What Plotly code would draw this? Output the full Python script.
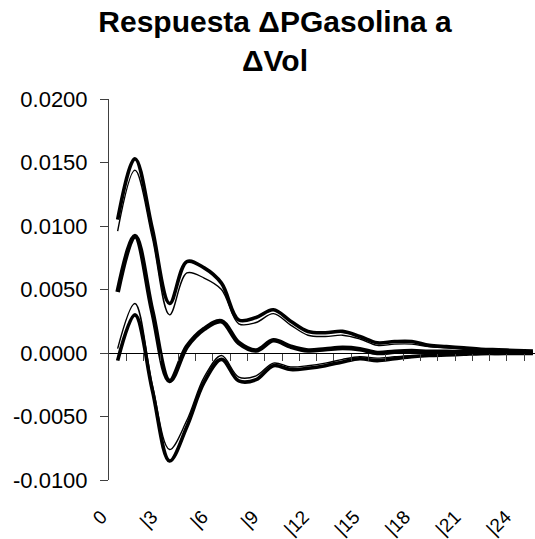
import plotly.graph_objects as go

# Horizon (periods after the shock)
periods = list(range(25))

# Response of ΔPGasolina to a ΔVol shock: point estimate and two pairs of bands
response = [0.0048, 0.0092, 0.0033, -0.0022, 0.0005, 0.0019, 0.0025, 0.0008, 0.0002,
            0.0010, 0.0005, 0.0002, 0.0003, 0.0004, 0.0003, 0.0000, 0.0001, 0.00015,
            0.0001, 0.0001, 0.00005, 0.00005, 0.0, 0.0, 0.0]
upper_outer = [0.0105, 0.0153, 0.0098, 0.0039, 0.0072, 0.0067, 0.0055, 0.0026, 0.0028,
               0.0034, 0.0025, 0.0017, 0.0016, 0.0017, 0.0013, 0.0008, 0.0009, 0.0009,
               0.0006, 0.0005, 0.0004, 0.0003, 0.00025, 0.0002, 0.00015]
upper_inner = [0.0096, 0.0144, 0.0091, 0.0030, 0.0063, 0.0059, 0.0050, 0.0023, 0.0024,
               0.0031, 0.0022, 0.0014, 0.0013, 0.0014, 0.0011, 0.0006, 0.0007, 0.0007,
               0.0005, 0.0004, 0.0003, 0.00025, 0.0002, 0.00015, 0.0001]
lower_outer = [-0.0006, 0.0030, -0.0029, -0.0085, -0.0058, -0.0023, -0.0005, -0.0022, -0.0021,
               -0.0010, -0.0013, -0.0012, -0.0010, -0.0007, -0.00045, -0.0006, -0.00045, -0.0003,
               -0.0002, -0.00015, -0.0001, -0.00005, -0.00003, 0.0, 0.0]
lower_inner = [0.00035, 0.0039, -0.0025, -0.0076, -0.0053, -0.0019, -0.0002, -0.0019, -0.0018,
               -0.0008, -0.0011, -0.0010, -0.0008, -0.0005, -0.0003, -0.0004, -0.0003, -0.0002,
               -0.00015, -0.0001, -0.00005, -0.00003, 0.0, 0.0, 0.0]

# Axis labels
label_periods = [0, 3, 6, 9, 12, 15, 18, 21, 24]
label_text = ["0", "|3", "|6", "|9", "|12", "|15", "|18", "|21", "|24"]
y_ticks = [-0.01, -0.005, 0.0, 0.005, 0.01, 0.015, 0.02]
y_text = [f"{v:.4f}" for v in y_ticks]

FONT = "Liberation Sans, Arial, sans-serif"
LEFT_MARGIN = 80
PLOT_LEFT = 109
W = 535
plot_frac = (PLOT_LEFT - LEFT_MARGIN) / (W - LEFT_MARGIN)

fig = go.Figure()

for vals, width in [(upper_outer, 3.6), (lower_outer, 3.6),
                    (upper_inner, 1.4), (lower_inner, 1.4),
                    (response, 4.6)]:
    fig.add_trace(go.Scatter(
        x=periods, y=vals, mode="lines",
        line=dict(color="black", width=width, shape="spline", smoothing=1.0),
        showlegend=False, hoverinfo="skip",
    ))

# carrier trace so the label axis is drawn
fig.add_trace(go.Scatter(
    x=label_periods, y=[0] * len(label_periods), xaxis="x2", mode="markers",
    marker=dict(size=1, opacity=0), showlegend=False, hoverinfo="skip",
))

fig.update_layout(
    width=W, height=539,
    margin=dict(l=LEFT_MARGIN, r=0, t=99, b=59, pad=0),
    paper_bgcolor="white", plot_bgcolor="rgba(0,0,0,0)",
    font=dict(family=FONT, color="black"),
    title=dict(
        text="<b>Respuesta ΔPGasolina a<br>ΔVol</b>",
        font=dict(family=FONT, size=30, color="black"),
        x=0.514, xref="container", xanchor="center",
        y=1 - 32 / 539, yref="container", yanchor="middle",
    ),
    yaxis=dict(
        range=[-0.01, 0.02], tickvals=y_ticks, ticktext=y_text,
        showline=True, linecolor="#404040", linewidth=1,
        ticks="outside", ticklen=8, tickcolor="#404040",
        showgrid=False, zeroline=False,
        tickfont=dict(family=FONT, size=22, color="black"),
        ticklabelstandoff=8,
    ),
    # category axis crossing at zero, with tick marks between periods
    xaxis=dict(
        domain=[plot_frac, 1],
        range=[-0.5, 24.12], anchor="free", position=1 / 3,
        tickvals=[p + 0.5 for p in periods[:-1]],
        showticklabels=False,
        showline=True, linecolor="black", linewidth=1,
        ticks="outside", ticklen=7, tickcolor="#404040",
        showgrid=False, zeroline=False,
    ),
    # period labels under the plot area
    xaxis2=dict(
        domain=[0, 1], anchor="y", side="bottom",
        range=[-1.27, 25.73],
        tickvals=label_periods, ticktext=label_text, tickangle=-45,
        ticks="", showline=False, showgrid=False, zeroline=False,
        tickfont=dict(family=FONT, size=19, color="black"),
        ticklabelstandoff=21,
    ),
)

fig.write_html("out.html")
